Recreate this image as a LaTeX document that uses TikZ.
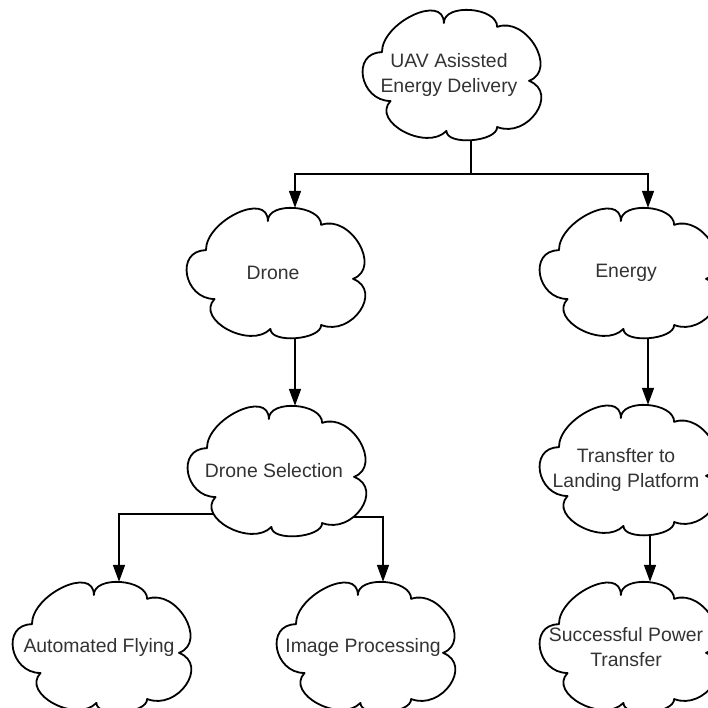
\documentclass[tikz,border=0pt]{standalone}
\usepackage{fontspec}
\setmainfont{Liberation Sans}
\usetikzlibrary{arrows.meta}
\pgfdeclarelayer{bg}\pgfdeclarelayer{mid}\pgfsetlayers{bg,mid,main}
\definecolor{txt}{HTML}{333333}
\newcommand\cloudfont{\fontsize{19.4pt}{25pt}\selectfont}
\newcommand\cloudat[1]{%
\begin{scope}[shift={(#1.center)}, x=86pt, y=-65pt]
\draw[cloudline] (-0.78,-0.35) .. controls (-0.78,-0.81) and (-0.06,-1.26) .. (-0.06,-0.80)
 .. controls (-0.06,-1.107) and (0.56,-1.047) .. (0.56,-0.74)
 .. controls (0.90,-0.907) and (1.27,-0.077) .. (0.93,0.09)
 .. controls (1.285,0.274) and (0.915,0.984) .. (0.56,0.80)
 .. controls (0.56,1.03) and (-0.03,1.09) .. (-0.03,0.86)
 .. controls (-0.26,1.18) and (-0.91,0.72) .. (-0.68,0.40)
 .. controls (-1.04,0.40) and (-1.14,-0.35) .. (-0.78,-0.35) -- cycle;
\end{scope}}
\begin{document}
\begin{tikzpicture}[x=1pt, y=-1pt,
  cloudline/.style={draw=black, fill=white, line width=1.8pt, line join=round},
  cloudnode/.style={minimum width=172pt, minimum height=130pt, inner sep=0pt,
    align=center, text=txt, font=\cloudfont},
  conn/.style={draw=black, line width=1.6pt, -{Triangle[length=17pt,width=12pt]}}]
\useasboundingbox (0,0) rectangle (708,708);
\begin{pgfonlayer}{bg}
\fill[white] (0,0) rectangle (708,708);
\end{pgfonlayer}

\node[cloudnode] (top)    at (449,75)  {UAV Asissted\\Energy Delivery};
\node[cloudnode] (drone)  at (273,273) {Drone};
\node[cloudnode] (energy) at (626,273) {Energy};
\node[cloudnode] (sel)    at (274,471) {Drone Selection};
\node[cloudnode] (trans)  at (626,470) {Transfter to\\Landing Platform};
\node[cloudnode] (auto)   at (99,647)  {Automated Flying};
\node[cloudnode] (img)    at (363,647) {Image Processing};
\node[cloudnode] (succ)   at (626,647) {Successful Power\\Transfer};

\begin{pgfonlayer}{mid}
\cloudat{top}\cloudat{drone}\cloudat{energy}\cloudat{sel}
\cloudat{trans}\cloudat{auto}\cloudat{img}\cloudat{succ}
\end{pgfonlayer}

\begin{pgfonlayer}{bg}
\draw[conn] ([xshift=22pt]top.south) -- ++(0pt,-34pt) -| ([xshift=22pt]drone.north);
\draw[conn] ([xshift=22pt]top.south) -- ++(0pt,-34pt) -| ([xshift=22pt]energy.north);
\draw[conn] ([xshift=22pt]drone.south) -- ([xshift=22pt]drone.south |- sel.north);
\draw[conn] ([xshift=22pt]energy.south) -- ([xshift=22pt]energy.south |- trans.north);
\draw[conn] ([xshift=24pt]trans.south) -- ([xshift=24pt]trans.south |- succ.north);
\draw[conn] ([yshift=-43pt]sel.center) -| ([xshift=20pt]auto.north);
\draw[conn] ([yshift=-46pt]sel.center) -| ([xshift=20pt]img.north);
\end{pgfonlayer}
\end{tikzpicture}
\end{document}
